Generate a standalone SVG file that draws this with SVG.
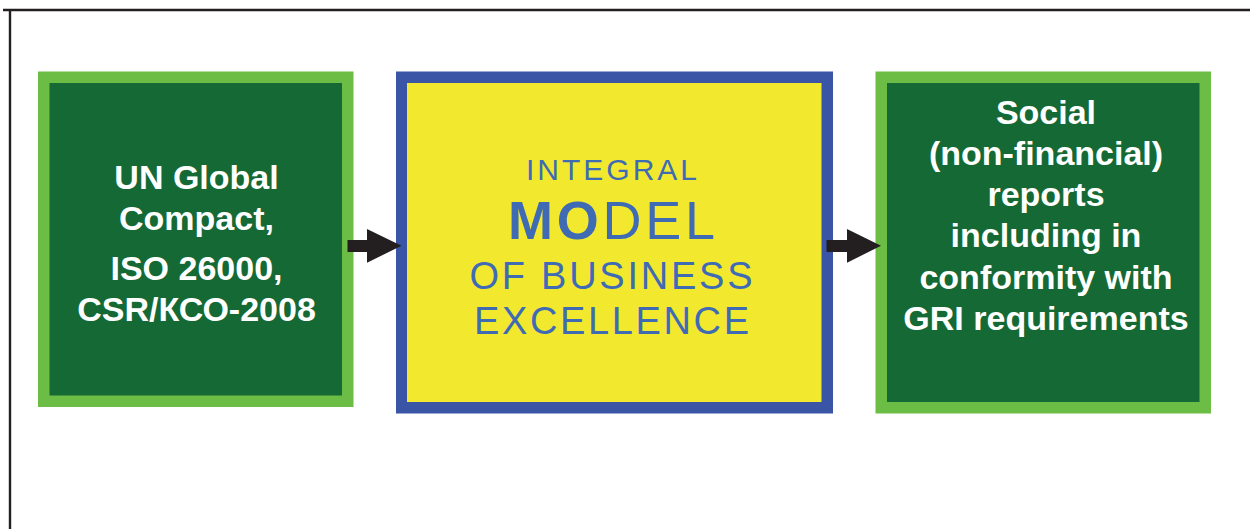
<svg xmlns="http://www.w3.org/2000/svg" width="1250" height="529" viewBox="0 0 1250 529">
<style>
.frame{stroke:#231f20;stroke-width:2.4;fill:none}
.lg{fill:#6cbd45}
.dg{fill:#156934}
.bl{fill:#3a55a5}
.yl{fill:#f2e92e}
.wt{font-family:"Liberation Sans",Arial,sans-serif;font-weight:bold;font-size:34px;fill:#ffffff;text-anchor:middle}
.bt{font-family:"Liberation Sans",Arial,sans-serif;fill:#3f6bb5;text-anchor:middle}
.arrow{fill:#231f20}
</style>
<rect width="1250" height="529" fill="#ffffff"/>
<path class="frame" d="M3,10 H1250 M10,10 V529"/>
<g id="node-left">
<rect class="lg" x="38" y="71.5" width="315.5" height="335.5"/>
<rect class="dg" x="49.5" y="83" width="292.5" height="312.5"/>
<text class="wt" x="196.5" y="188.5">UN Global</text>
<text class="wt" x="196.5" y="230">Compact,</text>
<text class="wt" x="196.5" y="280">ISO 26000,</text>
<text class="wt" x="196.5" y="320.5">CSR/КСО-2008</text>
</g>
<g id="node-middle">
<rect class="bl" x="396" y="71.5" width="437" height="342"/>
<rect class="yl" x="407" y="83" width="414.5" height="319"/>
<text class="bt" x="611.5" y="180" font-size="30" textLength="171" lengthAdjust="spacing">INTEGRAL</text>
<text class="bt" x="611.5" y="239" font-size="54" textLength="207" lengthAdjust="spacing"><tspan font-weight="bold">MO</tspan>DEL</text>
<text class="bt" x="611" y="288.5" font-size="38" textLength="283" lengthAdjust="spacing">OF BUSINESS</text>
<text class="bt" x="611.5" y="334" font-size="38" textLength="275" lengthAdjust="spacing">EXCELLENCE</text>
</g>
<g id="node-right">
<rect class="lg" x="875.5" y="71.5" width="335.5" height="342"/>
<rect class="dg" x="887" y="83" width="312.5" height="319"/>
<text class="wt" x="1046" y="123.5">Social</text>
<text class="wt" x="1046" y="164.5">(non-financial)</text>
<text class="wt" x="1046" y="206">reports</text>
<text class="wt" x="1046" y="247">including in</text>
<text class="wt" x="1046" y="288.5">conformity with</text>
<text class="wt" x="1046" y="329.5">GRI requirements</text>
</g>
<g id="connectors">
<polygon class="arrow" points="347.5,240 367,240 367,229 401.5,245.8 367,262.7 367,252 347.5,252"/>
<polygon class="arrow" points="826.5,240 847,240 847,229 881,245.8 847,262.7 847,252 826.5,252"/>
</g>
</svg>
